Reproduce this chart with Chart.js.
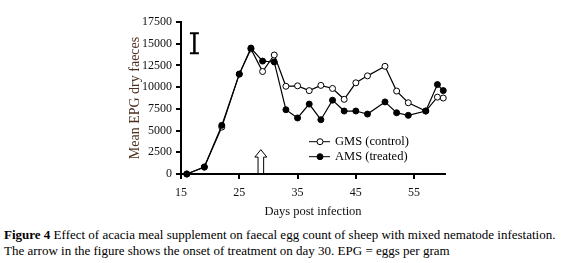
<!DOCTYPE html>
<html>
<head>
<meta charset="utf-8">
<script src="https://cdn.jsdelivr.net/npm/chart.js@4.4.1/dist/chart.umd.min.js"></script>
<style>
  body { margin: 0; background: #fff; }
  #wrap { width: 564px; height: 219px; }
  .caption {
    font-family: "Liberation Serif", "Times New Roman", serif;
    font-size: 13px; line-height: 15.7px; color: #000;
    margin: 8px 0 0 4px; white-space: nowrap;
  }
</style>
</head>
<body>
<div id="wrap"><canvas id="epgChart" width="564" height="219"></canvas></div>
<div class="caption"><b>Figure 4</b> Effect of acacia meal supplement on faecal egg count of sheep with mixed nematode infestation.<br>The arrow in the figure shows the onset of treatment on day 30. EPG = eggs per gram</div>
<script>
// 数据：感染后天数 & 平均 EPG
const days   = [16, 19, 22, 25, 27, 29, 31, 33, 35, 37, 39, 41, 43, 45, 47, 50, 52, 54, 57, 59, 60];
const gmsEpg = [0, 800, 5400, 11500, 14400, 11800, 13700, 10100, 10150, 9600, 10200, 9850, 8600, 10500, 11300, 12400, 9550, 8200, 7250, 8850, 8750];
const amsEpg = [0, 800, 5600, 11500, 14500, 13000, 12900, 7400, 6450, 8050, 6250, 8500, 7250, 7250, 6900, 8300, 7050, 6750, 7250, 10300, 9600];
const xTickDays = [15, 25, 35, 45, 55];

// 箭头（治疗开始）和误差线
const arrowDay = 28.7, arrowTop = 2800;
const errDay = 17.3, errLow = 13900, errHigh = 16200;

const serif = '"Liberation Serif", "Times New Roman", serif';

const extras = {
  id: 'extras',
  afterDatasetsDraw(chart) {
    const { ctx, scales: { x, y } } = chart;
    ctx.save();
    // 箭头
    const ax = x.getPixelForValue(arrowDay);
    const y0 = y.getPixelForValue(0) - 1;
    const yt = y.getPixelForValue(arrowTop);
    ctx.beginPath();
    ctx.moveTo(ax - 2.8, y0);
    ctx.lineTo(ax - 2.8, yt + 7.4);
    ctx.lineTo(ax - 6, yt + 7.4);
    ctx.lineTo(ax, yt);
    ctx.lineTo(ax + 6, yt + 7.4);
    ctx.lineTo(ax + 2.8, yt + 7.4);
    ctx.lineTo(ax + 2.8, y0);
    ctx.fillStyle = '#fff';
    ctx.fill();
    ctx.strokeStyle = '#000';
    ctx.lineWidth = 1;
    ctx.stroke();

    // 误差线 "I"
    const ex = x.getPixelForValue(errDay);
    const e1 = y.getPixelForValue(errLow), e2 = y.getPixelForValue(errHigh);
    ctx.lineWidth = 2.5;
    ctx.beginPath();
    ctx.moveTo(ex, e1); ctx.lineTo(ex, e2);
    ctx.stroke();
    ctx.lineWidth = 2;
    ctx.beginPath();
    ctx.moveTo(ex - 4.5, e1); ctx.lineTo(ex + 4.5, e1);
    ctx.moveTo(ex - 4.5, e2); ctx.lineTo(ex + 4.5, e2);
    ctx.stroke();

    // 图例
    const rows = [
      { text: 'GMS (control)', fill: '#fff', yy: 141.7 },
      { text: 'AMS (treated)', fill: '#000', yy: 156.7 }
    ];
    ctx.font = '12.5px ' + serif;
    ctx.textBaseline = 'middle';
    rows.forEach(r => {
      ctx.lineWidth = 1;
      ctx.beginPath();
      ctx.moveTo(309, r.yy); ctx.lineTo(330, r.yy);
      ctx.stroke();
      ctx.beginPath();
      ctx.arc(320, r.yy, 3, 0, Math.PI * 2);
      ctx.fillStyle = r.fill;
      ctx.fill();
      ctx.stroke();
      ctx.fillStyle = '#000';
      ctx.fillText(r.text, 335, r.yy + 0.5);
    });
    ctx.restore();
  }
};

new Chart(document.getElementById('epgChart'), {
  type: 'line',
  data: {
    labels: days,
    datasets: [{
      label: 'GMS (control)',
      data: days.map((d, i) => ({ x: d, y: gmsEpg[i] })),
      borderColor: '#000',
      borderWidth: 1.2,
      pointRadius: 3,
      pointBorderWidth: 1,
      pointBackgroundColor: '#fff',
      pointBorderColor: '#000',
      tension: 0,
      clip: false,
      order: 1
    }, {
      label: 'AMS (treated)',
      data: days.map((d, i) => ({ x: d, y: amsEpg[i] })),
      borderColor: '#000',
      borderWidth: 1.2,
      pointRadius: 3,
      pointBorderWidth: 1,
      pointBackgroundColor: '#000',
      pointBorderColor: '#000',
      tension: 0,
      clip: false,
      order: 0
    }]
  },
  options: {
    responsive: false,
    animation: false,
    layout: { padding: { left: 127, right: 119, top: 22, bottom: 0 } },
    plugins: {
      legend: { display: false },
      tooltip: { enabled: false }
    },
    scales: {
      x: {
        type: 'linear',
        min: 15,
        max: 60.3,
        afterBuildTicks: s => { s.ticks = xTickDays.map(v => ({ value: v })); },
        afterFit: s => { s.height = 45; },
        grid: { drawOnChartArea: false, drawTicks: true, tickLength: 5, lineWidth: 2, color: '#000' },
        border: { display: true, color: '#000', width: 2 },
        ticks: { font: { family: serif, size: 12 }, color: '#111', padding: 7, maxRotation: 0, callback: v => String(v) },
        title: {
          display: true, text: 'Days post infection', color: '#111',
          font: { family: serif, size: 12.5 }, padding: { top: 4, bottom: 0 }
        }
      },
      y: {
        min: 0,
        max: 17500,
        afterFit: s => { s.width = 54; },
        grid: { drawOnChartArea: false, drawTicks: true, tickLength: 5, lineWidth: 2, color: '#000' },
        border: { display: true, color: '#000', width: 2 },
        ticks: { stepSize: 2500, font: { family: serif, size: 12 }, color: '#111', padding: 4, callback: v => String(v) },
        title: {
          display: true, text: 'Mean EPG dry faeces', color: '#4d3020',
          font: { family: serif, size: 14 }, padding: 0
        }
      }
    }
  },
  plugins: [extras]
});
</script>
</body>
</html>
